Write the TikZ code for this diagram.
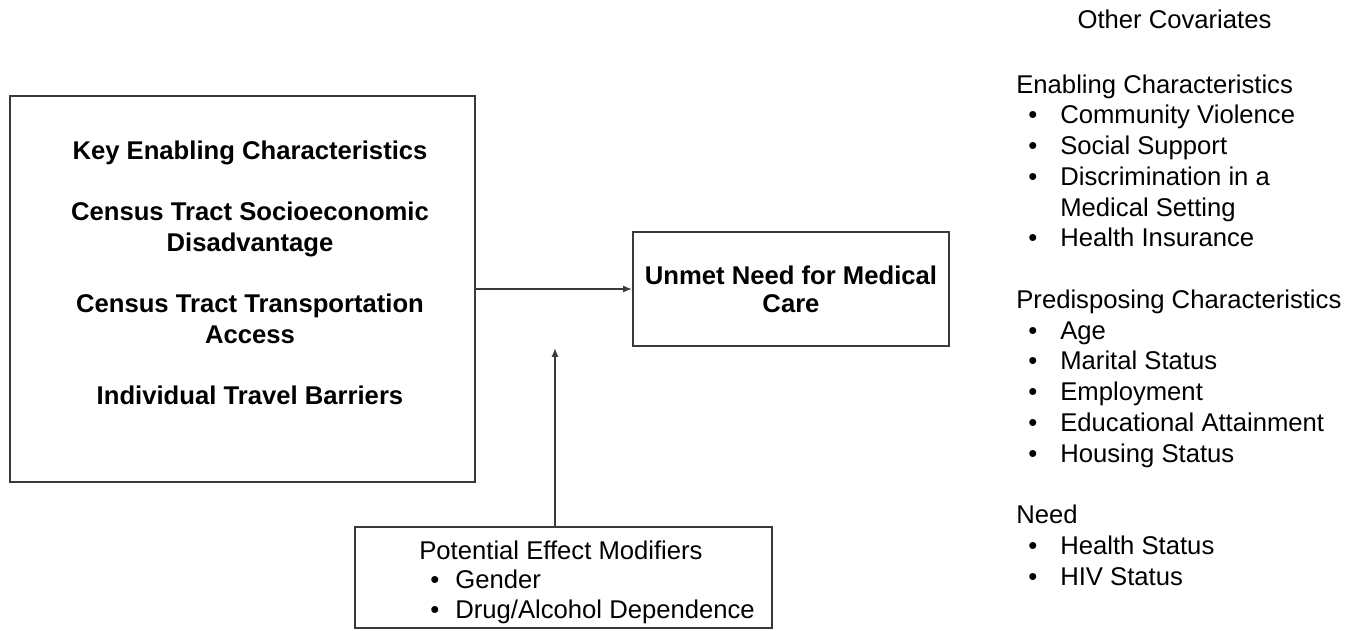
\documentclass[tikz,border=0pt]{standalone}
\usepackage{fontspec}
\setmainfont{Liberation Sans}
\usetikzlibrary{arrows.meta}

\definecolor{boxgray}{HTML}{3A3A3A}

% bullet line for the covariate lists
\newcommand{\covitem}[1]{\hspace*{0.24cm}\makebox[0.64cm][l]{\textbullet}#1}
\newcommand{\covcont}[1]{\hspace*{0.88cm}#1}
\newcommand{\moditem}[1]{\hspace*{0.22cm}\makebox[0.5cm][l]{\textbullet}#1}

\tikzset{
  box/.style={draw=boxgray, line width=1.2pt, inner sep=0pt},
  keytext/.style={font=\fontsize{14.6}{17.5}\selectfont\bfseries, align=center, inner sep=0pt},
  covtext/.style={font=\fontsize{14.6}{17.5}\selectfont, align=left, inner sep=0pt},
  modtext/.style={font=\fontsize{14.6}{16.7}\selectfont, align=left, inner sep=0pt},
  link/.style={draw=boxgray, line width=0.9pt, -{Latex[length=5pt,width=4pt]}}
}

\begin{document}
\begin{tikzpicture}[x=0.02cm, y=-0.02cm]
    \useasboundingbox (0,0) rectangle (1363,631);

    % the three boxes
    \node[box, minimum width=9.3cm, minimum height=7.72cm] (enab) at (242.5,289) {};
    \node[box, minimum width=6.32cm, minimum height=2.28cm] (unmet) at (791,289) {};
    \node[box, minimum width=8.34cm, minimum height=2.02cm] (mods) at (563.5,577.5) {};

    % box texts (base = last line)
    \node[keytext, anchor=base] (keychar) at (250,405) {Key Enabling Characteristics\\[17.5pt]
        Census Tract Socioeconomic\\ Disadvantage\\[17.5pt]
        Census Tract Transportation\\ Access\\[17.5pt]
        Individual Travel Barriers};
    \node[keytext, font=\fontsize{14.6}{16.2}\selectfont\bfseries, anchor=base] (unmettxt) at (791,313) {Unmet Need for Medical\\ Care};
    \node[modtext, anchor=base west] (modtxt) at (419,618) {Potential Effect Modifiers\\
        \moditem{Gender}\\
        \moditem{Drug/Alcohol Dependence}};

    % other covariates
    \node[covtext, anchor=base] (covhead) at (1174.5,28.5) {Other Covariates};
    \node[covtext, anchor=base west] (covlist) at (1016,585) {Enabling Characteristics\\
        \covitem{Community Violence}\\
        \covitem{Social Support}\\
        \covitem{Discrimination in a}\\
        \covcont{Medical Setting}\\
        \covitem{Health Insurance}\\[17.5pt]
        Predisposing Characteristics\\
        \covitem{Age}\\
        \covitem{Marital Status}\\
        \covitem{Employment}\\
        \covitem{Educational Attainment}\\
        \covitem{Housing Status}\\[17.5pt]
        Need\\
        \covitem{Health Status}\\
        \covitem{HIV Status}};

    % arrows
    \coordinate (modtip) at (555,348);
    \draw[link] (enab.east) -- (unmet.west);
    \draw[link] (mods.north -| modtip) -- (modtip);
\end{tikzpicture}
\end{document}
